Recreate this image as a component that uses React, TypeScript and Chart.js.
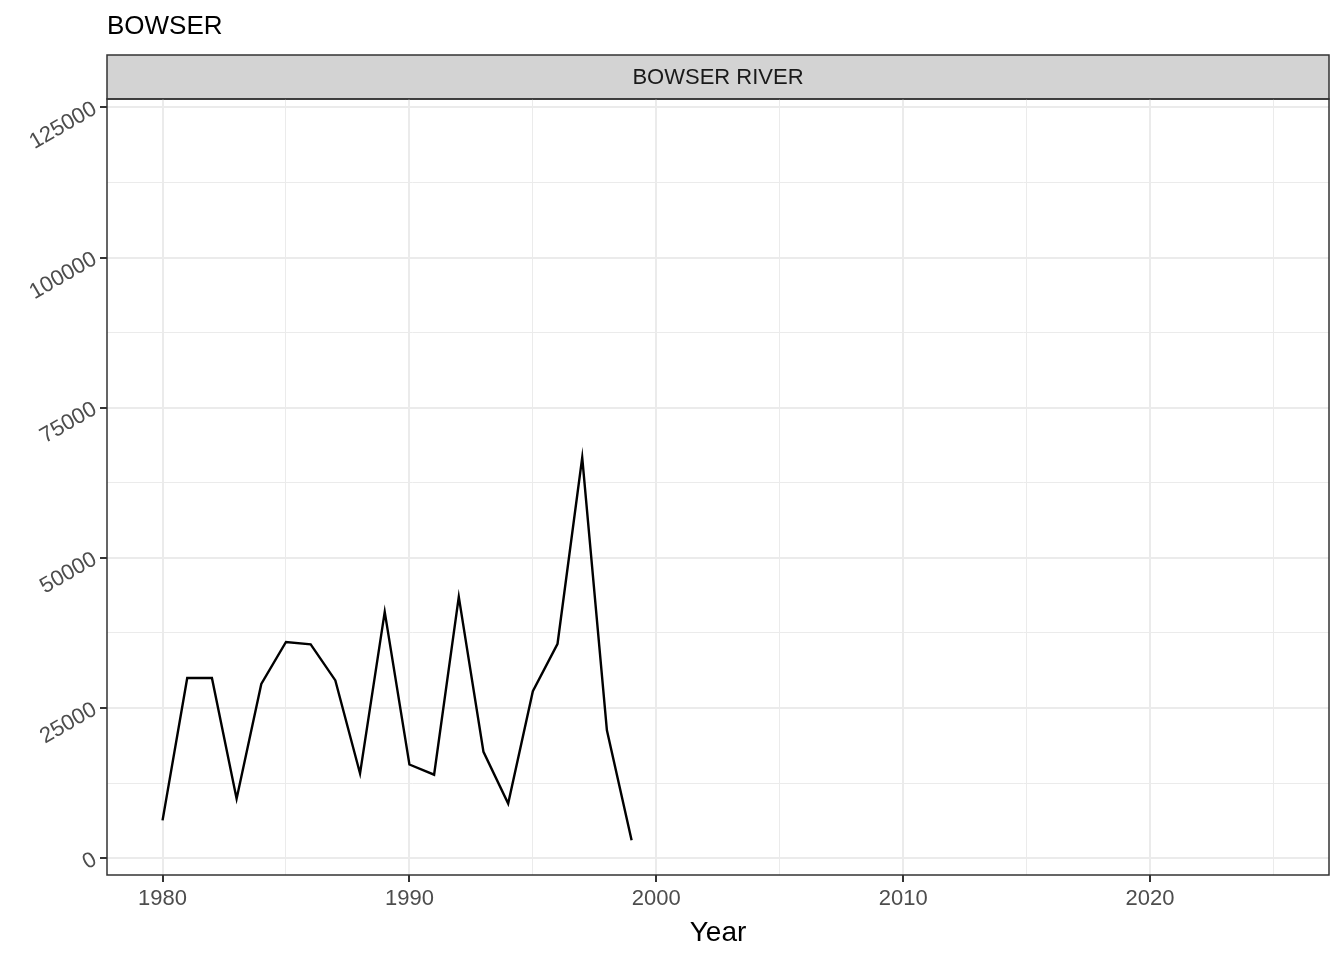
import React, { useEffect, useRef } from "react";
import { Chart, registerables } from "chart.js";

Chart.register(...registerables);

const plotTitle = "BOWSER";
const stripLabel = "BOWSER RIVER";
const xAxisTitle = "Year";

const years = [1980, 1981, 1982, 1983, 1984, 1985, 1986, 1987, 1988, 1989, 1990, 1991, 1992, 1993, 1994, 1995, 1996, 1997, 1998, 1999];
const escapement = [6300, 30000, 30000, 9900, 29000, 36000, 35600, 29600, 14100, 41000, 15600, 13900, 43500, 17700, 9100, 27800, 35700, 66700, 21300, 3000];

const xMajorTicks = [1980, 1990, 2000, 2010, 2020];
const xMinorTicks = [1985, 1995, 2005, 2015, 2025];
const yMajorTicks = [0, 25000, 50000, 75000, 100000, 125000];
const yMinorTicks = [12500, 37500, 62500, 87500, 112500];
const xLimits = [1977.75, 2027.25];
const yLimits = [-2800, 126400];

const FONT = "'Liberation Sans', Arial, Helvetica, sans-serif";

const decor = {
  id: "decor",
  beforeDraw(chart: any) {
    const ctx = chart.ctx;
    const a = chart.chartArea;
    ctx.save();
    ctx.fillStyle = "#ffffff";
    ctx.fillRect(0, 0, chart.width, chart.height);
    // strip
    const stripTop = 55;
    ctx.fillStyle = "#D3D3D3";
    ctx.fillRect(a.left, stripTop, a.right - a.left, a.top - stripTop);
    ctx.strokeStyle = "#333333";
    ctx.lineWidth = 1.5;
    ctx.strokeRect(a.left, stripTop, a.right - a.left, a.top - stripTop);
    ctx.fillStyle = "#1A1A1A";
    ctx.font = `22px ${FONT}`;
    ctx.textAlign = "center";
    ctx.textBaseline = "middle";
    ctx.fillText(stripLabel, (a.left + a.right) / 2, (stripTop + a.top) / 2 + 1);
    // title
    ctx.fillStyle = "#000000";
    ctx.font = `26px ${FONT}`;
    ctx.textAlign = "left";
    ctx.textBaseline = "alphabetic";
    ctx.fillText(plotTitle, a.left, 34);
    ctx.restore();
  },
  afterDraw(chart: any) {
    const ctx = chart.ctx;
    const a = chart.chartArea;
    ctx.save();
    ctx.strokeStyle = "#333333";
    ctx.lineWidth = 1.5;
    ctx.strokeRect(a.left, a.top, a.right - a.left, a.bottom - a.top);
    ctx.fillStyle = "#000000";
    ctx.font = `28px ${FONT}`;
    ctx.textAlign = "center";
    ctx.textBaseline = "alphabetic";
    ctx.fillText(xAxisTitle, (a.left + a.right) / 2, 941);
    ctx.restore();
  },
};

export default function App() {
  const canvasRef = useRef<HTMLCanvasElement | null>(null);

  useEffect(() => {
    if (!canvasRef.current) return;
    Chart.defaults.font.family = FONT;
    const xAll = [...xMajorTicks, ...xMinorTicks].sort((p, q) => p - q);
    const yAll = [...yMajorTicks, ...yMinorTicks].sort((p, q) => p - q);
    const chart = new Chart(canvasRef.current, {
      type: "line",
      data: {
        datasets: [
          {
            data: years.map((yr, i) => ({ x: yr, y: escapement[i] })),
            borderColor: "#000000",
            borderWidth: 2.4,
            pointRadius: 0,
            tension: 0,
            fill: false,
          },
        ],
      },
      options: {
        animation: false,
        responsive: false,
        devicePixelRatio: 1,
        layout: { padding: { top: 99, right: 15, left: 0, bottom: 0 } },
        plugins: { legend: { display: false }, tooltip: { enabled: false } },
        scales: {
          x: {
            type: "linear",
            min: xLimits[0],
            max: xLimits[1],
            afterBuildTicks: (scale: any) => {
              scale.ticks = xAll.map((v) => ({ value: v }));
            },
            afterFit: (scale: any) => {
              scale.height = 85;
            },
            border: { display: false },
            grid: {
              color: "#EBEBEB",
              lineWidth: (c: any) => (c.tick && xMajorTicks.includes(c.tick.value) ? 2 : 1),
              tickColor: (c: any) => (c.tick && xMajorTicks.includes(c.tick.value) ? "#333333" : "rgba(0,0,0,0)"),
              tickWidth: 2,
              tickLength: 7,
              drawTicks: true,
            },
            ticks: {
              autoSkip: false,
              maxRotation: 0,
              minRotation: 0,
              padding: 4,
              color: "#4D4D4D",
              font: { size: 22, family: FONT },
              callback: (v: any) => (xMajorTicks.includes(Number(v)) ? String(v) : ""),
            },
          },
          y: {
            type: "linear",
            min: yLimits[0],
            max: yLimits[1],
            afterBuildTicks: (scale: any) => {
              scale.ticks = yAll.map((v) => ({ value: v }));
            },
            afterFit: (scale: any) => {
              scale.width = 107;
            },
            border: { display: false },
            grid: {
              color: "#EBEBEB",
              lineWidth: (c: any) => (c.tick && yMajorTicks.includes(c.tick.value) ? 2 : 1),
              tickColor: (c: any) => (c.tick && yMajorTicks.includes(c.tick.value) ? "#333333" : "rgba(0,0,0,0)"),
              tickWidth: 2,
              tickLength: 7,
              drawTicks: true,
            },
            ticks: {
              autoSkip: false,
              minRotation: 30,
              maxRotation: 30,
              padding: 5,
              color: "#4D4D4D",
              font: { size: 22, family: FONT },
              callback: (v: any) => (yMajorTicks.includes(Number(v)) ? String(v) : ""),
            },
          },
        },
      },
      plugins: [decor],
    });
    return () => chart.destroy();
  }, []);

  return (
    <div style={{ position: "absolute", left: 0, top: 0, width: 1344, height: 960 }}>
      <canvas ref={canvasRef} width={1344} height={960} style={{ width: 1344, height: 960 }} />
    </div>
  );
}
